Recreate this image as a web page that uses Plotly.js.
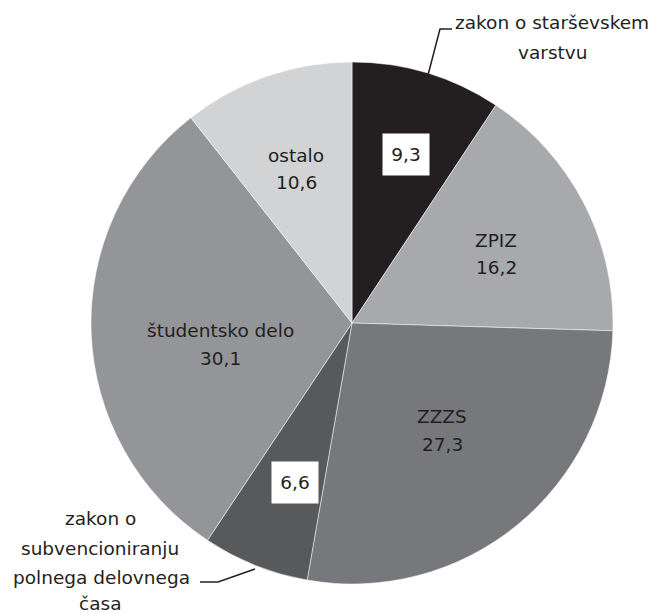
<!DOCTYPE html>
<html>
<head>
<meta charset="utf-8">
<script src="https://cdn.plot.ly/plotly-3.0.1.min.js"></script>
<style>
  html, body { margin: 0; padding: 0; background: #fff; }
  #chart { width: 655px; height: 613px; }
</style>
</head>
<body>
<div id="chart"></div>
<script>
// data
var labels = ["zakon o starševskem varstvu", "ZPIZ", "ZZZS",
  "zakon o subvencioniranju polnega delovnega časa", "študentsko delo", "ostalo"];
var values = [9.3, 16.2, 27.3, 6.6, 30.1, 10.6];
var colors = ["#231f20", "#a7a9ac", "#77787b", "#58595b", "#939598", "#d1d3d4"];

var W = 655, H = 613;
function px(x) { return x / W; }
function py(y) { return 1 - y / H; }
function fmt(v) { return String(v).replace(".", ","); }

var trace = {
  type: "pie",
  labels: labels,
  values: values,
  sort: false,
  direction: "clockwise",
  rotation: 0,
  textinfo: "none",
  hoverinfo: "label+value",
  marker: { colors: colors, line: { color: "#ffffff", width: 0.5 } },
  domain: { x: [px(91), px(613)], y: [py(584), py(62)] },
  showlegend: false
};

var font = { family: "DejaVu Sans, sans-serif", size: 18.5, color: "#231f20" };
var annotations = [];

function addText(txt, x, y) {
  annotations.push({
    text: txt, x: px(x), y: py(y), xref: "paper", yref: "paper",
    showarrow: false, font: font, xanchor: "center", yanchor: "middle"
  });
}
function addBox(txt, x, y) {
  annotations.push({
    text: txt, x: px(x), y: py(y), xref: "paper", yref: "paper",
    showarrow: false, font: font, xanchor: "center", yanchor: "middle",
    bgcolor: "#ffffff", width: 30, height: 25, borderpad: 8
  });
}

// inside labels: name + value
addText(labels[1], 496, 240); addText(fmt(values[1]), 496, 268);
addText(labels[2], 442, 416); addText(fmt(values[2]), 442, 444);
addText(labels[4], 220, 330); addText(fmt(values[4]), 220, 358);
addText(labels[5], 296, 155); addText(fmt(values[5]), 296, 183);

// small slices: boxed value, name outside
addBox(fmt(values[0]), 406, 154);
addBox(fmt(values[3]), 295, 482);

addText("zakon o starševskem", 552, 23);
addText("varstvu", 552, 52);
addText("zakon o", 100, 518);
addText("subvencioniranju", 100, 548);
addText("polnega delovnega", 101, 577);
addText("časa", 100, 603);

var shapes = [
  { type: "path", xref: "paper", yref: "paper",
    path: "M" + px(428) + "," + py(75) + " L" + px(440) + "," + py(29) + " L" + px(452) + "," + py(29),
    line: { color: "#231f20", width: 1.5 } },
  { type: "path", xref: "paper", yref: "paper",
    path: "M" + px(255) + "," + py(569) + " L" + px(218) + "," + py(582) + " L" + px(200) + "," + py(582),
    line: { color: "#231f20", width: 1.5 } }
];

var layout = {
  width: W, height: H,
  margin: { l: 0, r: 0, t: 0, b: 0 },
  paper_bgcolor: "#ffffff",
  annotations: annotations,
  shapes: shapes
};

Plotly.newPlot("chart", [trace], layout, { displayModeBar: false, staticPlot: true });
</script>
</body>
</html>
